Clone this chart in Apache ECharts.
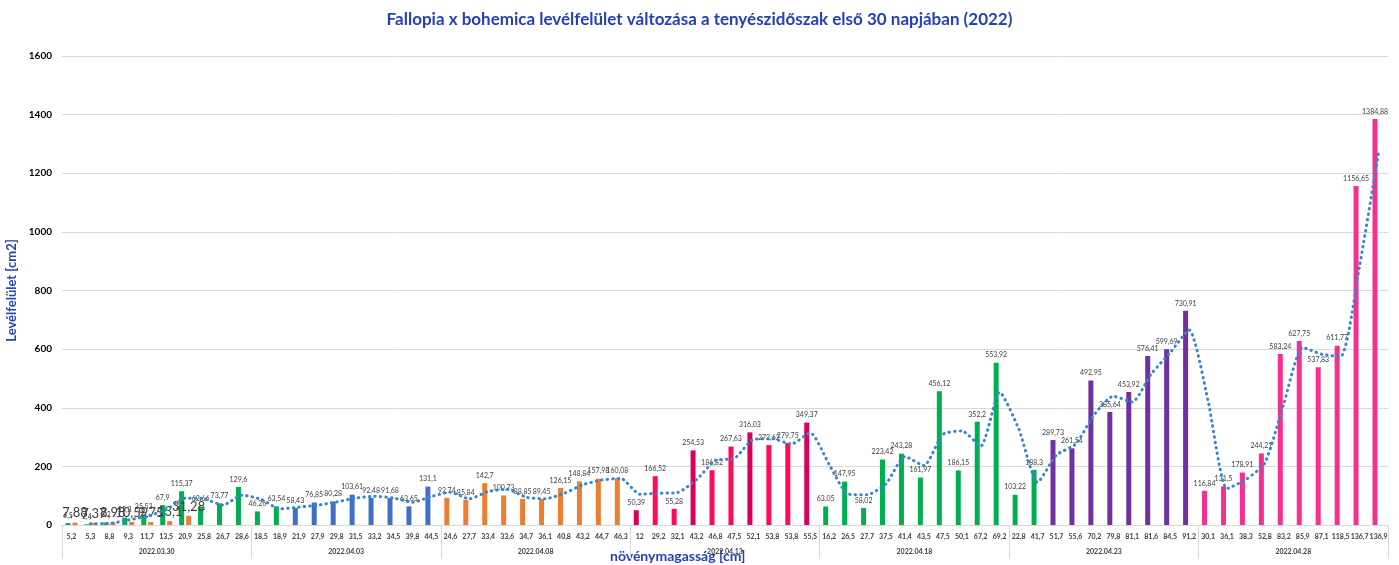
<!DOCTYPE html>
<html>
<head>
<meta charset="utf-8">
<script src="https://cdn.jsdelivr.net/npm/echarts@6/dist/echarts.min.js"></script>
<style>
html,body{margin:0;padding:0;background:#fff;}
#chart{width:1399px;height:565px;}
</style>
</head>
<body>
<div id="chart"></div>
<script>
// Category labels (plant height, cm)
const heights = [
  '5,2','5,3','8,8','9,3','11,7','13,5','20,9','25,8','26,7','28,6',
  '18,5','18,9','21,9','27,9','29,8','31,5','33,2','34,5','39,8','44,5',
  '24,6','27,7','33,4','33,6','34,7','36,1','40,8','43,2','44,7','46,3',
  '12','29,2','32,1','43,2','46,8','47,5','52,1','53,8','53,8','55,5',
  '16,2','26,5','27,7','37,5','41,4','43,5','47,5','50,1','67,2','69,2',
  '22,8','41,7','51,7','55,6','70,2','79,8','81,1','81,6','84,5','91,2',
  '30,1','36,1','38,3','52,8','83,2','85,9','87,1','118,5','136,7','136,9'
];
const dates = ['2022.03.30','2022.04.03','2022.04.08','2022.04.13','2022.04.18','2022.04.23','2022.04.28'];

// Leaf area [cm2]
const leafArea = [
  6.5, 2.4, 8.2, 25.3, 35.53, 67.9, 115.37, 62.66, 73.77, 129.6,
  46.26, 63.54, 58.43, 76.85, 80.28, 103.61, 92.48, 91.68, 63.65, 131.1,
  92.74, 85.84, 142.7, 100.73, 88.85, 89.45, 126.15, 148.84, 157.98, 160.08,
  50.39, 166.52, 55.28, 254.53, 186.82, 267.63, 316.03, 272.62, 279.75, 349.37,
  63.05, 147.95, 58.02, 223.42, 243.28, 161.97, 456.12, 186.15, 352.2, 553.92,
  103.22, 188.3, 289.73, 261.54, 492.95, 385.64, 453.92, 576.41, 599.69, 730.91,
  116.84, 131.5, 178.91, 244.21, 583.24, 627.75, 537.83, 611.77, 1156.65, 1384.88
];
// Second (orange) series, first date only
const secondSeries = [7.88, 7.37, 8.98, 10.59, 9.75, 13.1, 31.28];

// Dotted trend line (2-point moving average)
const trend = [
  null, 4.5, 5.3, 16.8, 30.4, 51.7, 91.6, 89.0, 68.2, 101.7,
  87.9, 54.9, 61.0, 67.6, 78.6, 91.9, 98.0, 92.1, 77.7, 97.4,
  111.9, 89.3, 114.3, 121.7, 94.8, 89.2, 107.8, 137.5, 153.4, 159.0,
  105.2, 108.5, 110.9, 154.9, 220.7, 227.2, 291.8, 294.3, 276.2, 314.6,
  206.2, 105.5, 103.0, 140.7, 233.4, 202.6, 309.0, 321.1, 269.2, 453.1,
  328.6, 145.8, 239.0, 275.6, 377.2, 439.3, 419.8, 515.2, 588.1, 665.3,
  423.9, 124.2, 155.2, 211.6, 413.7, 605.5, 582.8, 574.8, 884.2, 1270.8
];

const GREEN = '#00B050', BLUE = '#3F6FC6', ORANGE = '#ED7D31',
      RED1 = '#D9005B', RED2 = '#FF0A55', PURPLE = '#7030A0', PINK = '#F5308F';
const colors = [
  ...Array(10).fill(GREEN),
  GREEN, GREEN, ...Array(8).fill(BLUE),
  ...Array(10).fill(ORANGE),
  RED1, RED2, RED2, RED1, RED2, RED2, RED1, RED2, RED2, RED1,
  ...Array(10).fill(GREEN),
  GREEN, GREEN, ...Array(8).fill(PURPLE),
  ...Array(10).fill(PINK)
];

const fmt = v => String(v).replace('.', ',');
const FONT = 'Lato, "Liberation Sans", sans-serif';

const chart = echarts.init(document.getElementById('chart'));
chart.setOption({
  animation: false,
  textStyle: { fontFamily: FONT },
  title: {
    text: 'Fallopia x bohemica levélfelület változása a tenyészidőszak első 30 napjában (2022)',
    left: 'center', top: 6,
    textStyle: { color: '#2342B8', fontSize: 17, fontWeight: 'bold', fontFamily: FONT }
  },
  grid: { left: 62, right: 11, top: 56, bottom: 40, containLabel: false, outerBoundsMode: 'none' },
  graphic: [
    { type: 'text', left: 610, top: 549,
      style: { text: 'növénymagasság [cm]', fill: '#2342B8', font: 'bold 14px ' + FONT } }
  ],
  xAxis: [
    {
      type: 'category', data: heights, position: 'bottom',
      axisLine: { lineStyle: { color: '#D9D9D9' } },
      axisTick: { show: false },
      axisLabel: { interval: 0, fontSize: 7, fontWeight: 'bold', color: '#404040', margin: 8 }
    },
    {
      type: 'category', data: dates, position: 'bottom', boundaryGap: true,
      axisLine: { show: false },
      axisTick: { show: true, length: 34, lineStyle: { color: '#D9D9D9' } },
      axisLabel: { fontSize: 7, fontWeight: 'bold', color: '#404040', margin: 23 }
    }
  ],
  yAxis: {
    type: 'value', min: 0, max: 1600, interval: 200,
    axisLine: { show: false }, axisTick: { show: false },
    splitLine: { lineStyle: { color: '#D9D9D9' } },
    axisLabel: { fontSize: 10, fontWeight: 'bold', color: '#000', margin: 10,
                 formatter: v => String(v) },
    name: 'Levélfelület [cm2]', nameLocation: 'middle', nameGap: 42,
    nameTextStyle: { color: '#2342B8', fontSize: 13, fontWeight: 'bold' }
  },
  series: [
    {
      type: 'bar', xAxisIndex: 0, barWidth: 5, barGap: '40%',
      data: leafArea.map((v, i) => ({ value: v, itemStyle: { color: colors[i] } })),
      label: { show: true, position: 'top', distance: 4, fontSize: 7, color: '#404040',
               formatter: p => fmt(p.value) }
    },
    {
      type: 'bar', xAxisIndex: 0, barWidth: 5,
      data: secondSeries.concat(Array(heights.length - secondSeries.length).fill(null)),
      itemStyle: { color: ORANGE },
      label: { show: true, position: 'top', distance: 3, fontSize: 13, color: '#404040',
               formatter: p => (p.value == null ? '' : fmt(p.value)) }
    },
    {
      type: 'line', xAxisIndex: 0, data: trend, smooth: 0.2, symbol: 'none',
      lineStyle: { color: '#3A86CC', width: 3, type: [0.5, 5], cap: 'round' },
      z: 5
    }
  ]
});
</script>
</body>
</html>
